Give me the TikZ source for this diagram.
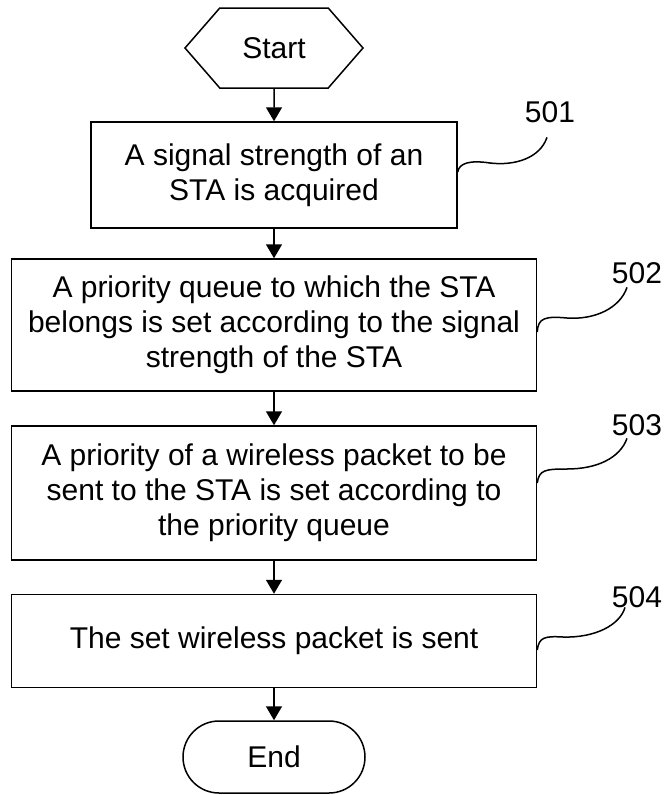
\documentclass[tikz,border=0pt]{standalone}
\usepackage{fontspec}
\setmainfont{Liberation Sans}
\usetikzlibrary{shapes.symbols,shapes.misc,arrows.meta}

\begin{document}
\begin{tikzpicture}[>={Triangle[length=14pt,width=16pt]},x=1pt,y=-1pt,line width=1.5pt,
  font=\fontsize{30}{35}\selectfont]
\useasboundingbox (0,0) rectangle (666,795);
\tikzstyle{every node}=[draw,align=center,inner sep=0pt]
\draw (274,48) node[signal,signal to=west and east,signal pointer angle=98,minimum width=178pt,minimum height=80pt] (start) {Start};
\draw (274,175) node[minimum width=366pt,minimum height=106pt] (acquire) {A signal strength of an\\STA is acquired};
\draw (274,325) node[minimum width=525pt,minimum height=132pt] (queue) {A priority queue to which the STA\\belongs is set according to the signal\\strength of the STA};
\draw (274,493) node[minimum width=525pt,minimum height=134pt] (prio) {A priority of a wireless packet to be\\sent to the STA is set according to\\the priority queue};
\draw (274,641) node[minimum width=525pt,minimum height=93pt] (send) {The set wireless packet is sent};
\draw (274,757) node[rounded rectangle,minimum width=182pt,minimum height=72pt] (stop) {End};

\tikzstyle{every node}=[inner sep=1pt]
\draw (550,112) node (lacquire) {501};
\draw (637,273) node (lqueue) {502};
\draw (637,425) node (lprio) {503};
\draw (637,597) node (lsend) {504};

\draw[->] (start) -- (acquire);
\draw[->] (acquire) -- (queue);
\draw[->] (queue) -- (prio);
\draw[->] (prio) -- (send);
\draw[->] (send) -- (stop);

\draw ([yshift=3pt]acquire.east) .. controls (459,163) and (470,160) .. (490,163)
  .. controls (515,166) and (540,158) .. ([xshift=-3pt,yshift=-13pt]lacquire.south);
\draw ([yshift=-7pt]queue.east) .. controls (538,318) and (545,316) .. (567,318)
  .. controls (595,320) and (620,308) .. ([xshift=-10pt,yshift=-2pt]lqueue.south);
\draw ([yshift=10pt]prio.east) .. controls (539,470) and (545,469) .. (567,469)
  .. controls (597,469) and (620,458) .. ([xshift=-10pt,yshift=-1pt]lprio.south);
\draw ([yshift=-9pt]send.east) .. controls (539,637) and (545,636) .. (563,637)
  .. controls (595,638) and (620,625) .. ([xshift=-12pt,yshift=2pt]lsend.south);

\end{tikzpicture}
\end{document}
